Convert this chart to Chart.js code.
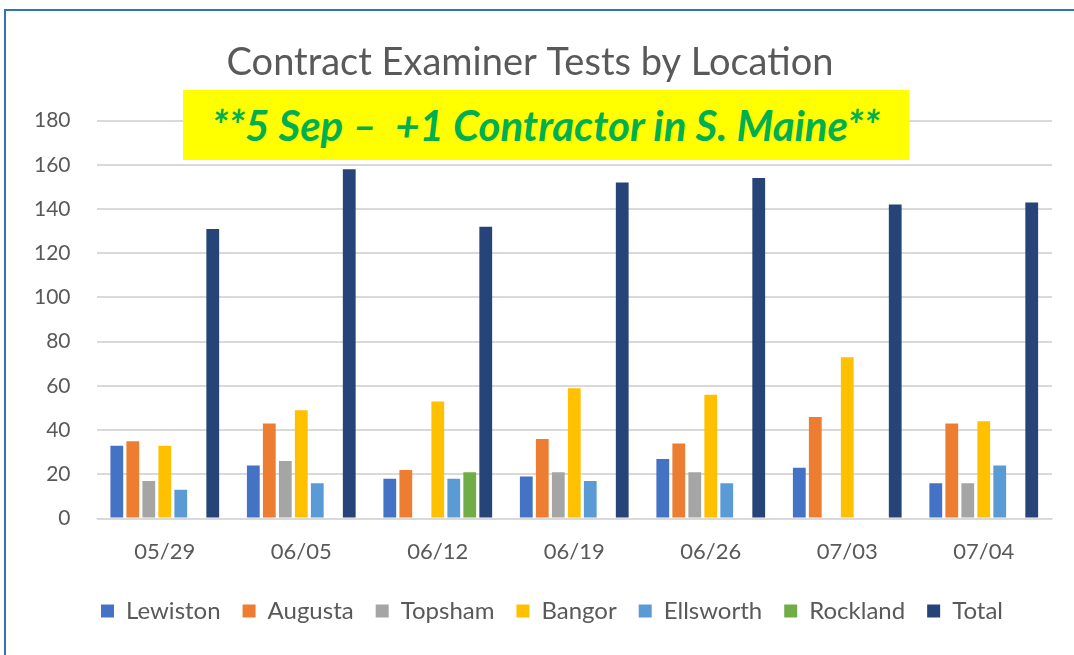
<!DOCTYPE html>
<html>
<head>
<meta charset="utf-8">
<script src="https://cdn.jsdelivr.net/npm/chart.js@4"></script>
<style>
  body { margin: 0; background: #fff; }
  #wrap { position: relative; width: 1074px; height: 655px; overflow: hidden; }
  #frame { position: absolute; left: 4px; top: 9px; width: 1080px; height: 660px; border: 2px solid #2e75b6; box-sizing: border-box; }
  #note {
    position: absolute; left: 183px; top: 90px; width: 726px; height: 70px;
    background: #ffff00; color: #00b050; font: italic bold 42px Lato, sans-serif;
    display: flex; align-items: center; justify-content: center; white-space: pre;
  }
  canvas { position: absolute; left: 0; top: 0; }
</style>
</head>
<body>
<div id="wrap">
  <div id="frame"></div>
  <canvas id="chart" width="1074" height="655"></canvas>
  <div id="note">**5 Sep –  +1 Contractor in S. Maine**</div>
</div>
<script>
const weeks = ['05/29', '06/05', '06/12', '06/19', '06/26', '07/03', '07/04'];
const lewiston = [33, 24, 18, 19, 27, 23, 16];
const augusta = [35, 43, 22, 36, 34, 46, 43];
const topsham = [17, 26, null, 21, 21, null, 16];
const bangor = [33, 49, 53, 59, 56, 73, 44];
const ellsworth = [13, 16, 18, 17, 16, null, 24];
const rockland = [null, null, 21, null, null, null, null];
const total = [131, 158, 132, 152, 154, 142, 143];
const yTicks = [0, 20, 40, 60, 80, 100, 120, 140, 160, 180];

const series = [
  ['Lewiston', lewiston, '#4472c4'],
  ['Augusta', augusta, '#ed7d31'],
  ['Topsham', topsham, '#a5a5a5'],
  ['Bangor', bangor, '#ffc000'],
  ['Ellsworth', ellsworth, '#5b9bd5'],
  ['Rockland', rockland, '#70ad47'],
  ['Total', total, '#264478'],
];

// nudge the legend a bit to the right, like the original
const legendShift = {
  id: 'legendShift',
  afterLayout(chart) {
    chart.legend.left += 22;
    chart.legend.right += 22;
  },
};

const ctx = document.getElementById('chart').getContext('2d');
new Chart(ctx, {
  type: 'bar',
  data: {
    labels: weeks,
    datasets: series.map(([name, vals, col]) => ({
      label: name,
      data: vals,
      backgroundColor: col,
      borderWidth: 0,
      categoryPercentage: 0.82,
      barPercentage: 0.8,
    })),
  },
  options: {
    responsive: false,
    animation: false,
    layout: { padding: { left: 8, right: 22, top: 12, bottom: 22 } },
    plugins: {
      title: {
        display: true,
        text: 'Contract Examiner Tests by Location',
        color: '#595959',
        font: { family: 'Lato', size: 38, weight: 'normal' },
        padding: { top: 28, bottom: 35 },
      },
      legend: {
        position: 'bottom',
        labels: {
          color: '#595959',
          font: { family: 'Lato', size: 24 },
          boxWidth: 13, boxHeight: 13,
          padding: 22,
        },
      },
      tooltip: { enabled: false },
    },
    scales: {
      x: {
        grid: { display: false },
        border: { display: true, color: '#d9d9d9' },
        ticks: { color: '#595959', font: { family: 'Lato', size: 22 }, padding: 12 },
      },
      y: {
        min: 0, max: 180,
        afterBuildTicks: (s) => { s.ticks = yTicks.map(v => ({ value: v })); },
        grid: { color: '#d9d9d9', lineWidth: 2, drawTicks: false },
        border: { display: false },
        ticks: { color: '#595959', font: { family: 'Lato', size: 21 }, padding: 26 },
      },
    },
  },
  plugins: [legendShift],
});
</script>
</body>
</html>
